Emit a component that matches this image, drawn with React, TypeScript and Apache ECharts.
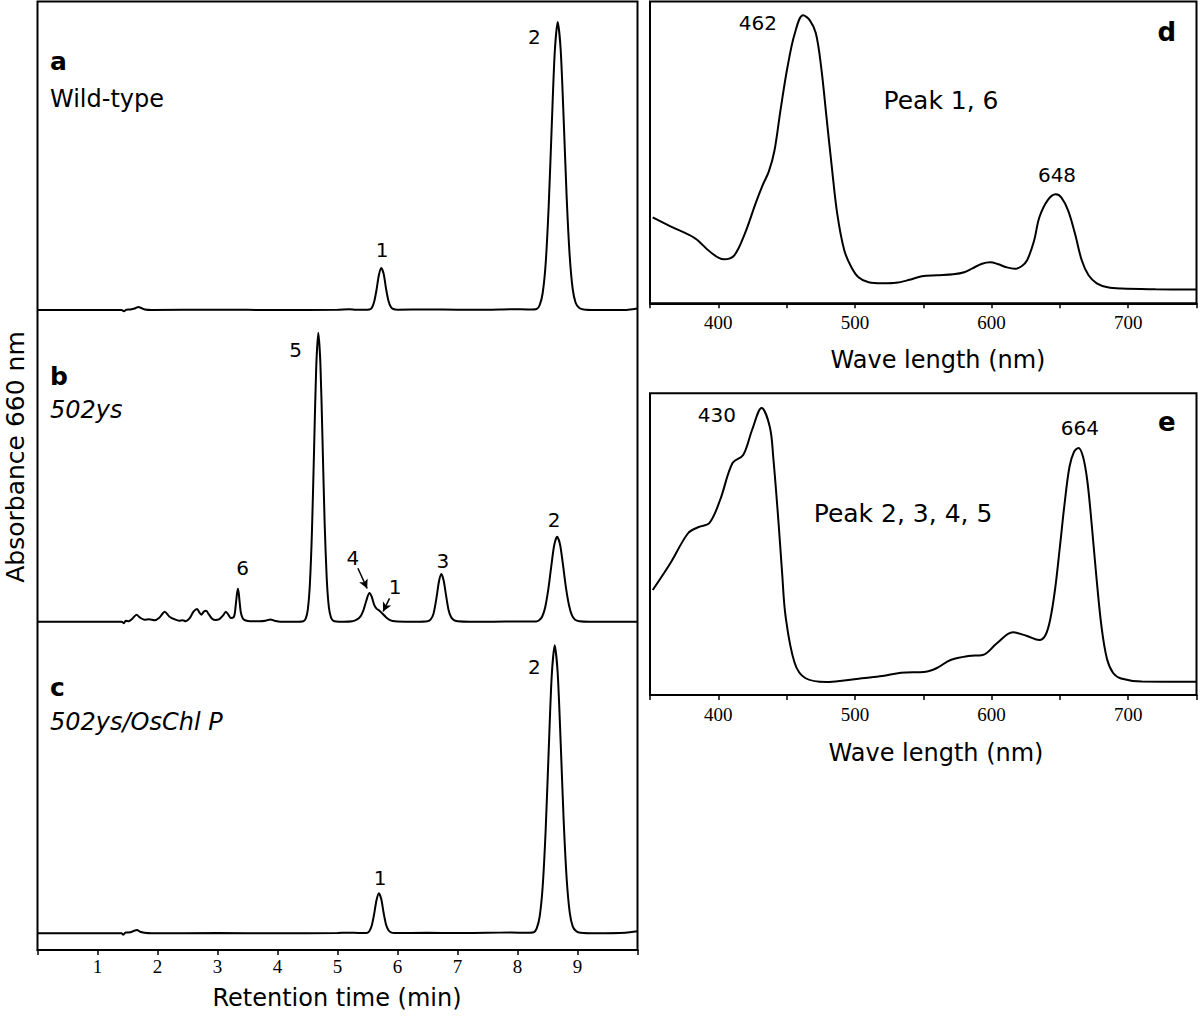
import React, { useEffect, useRef } from "react";
import * as echarts from "echarts";

// ---------- DATA ----------
// Chromatograms: [retention time (min), absorbance at 660 nm (a.u.)]
const timeTicks = [1, 2, 3, 4, 5, 6, 7, 8, 9];
const waveTicks = [400, 500, 600, 700];

const traceWildType: number[][] = [
  [0, 0], [1.4, 0], [1.44, -1.2], [1.48, 0.2], [1.55, 0.5], [1.62, 1.5], [1.68, 3], [1.73, 2], [1.79, 0.5], [1.9, 0],
  [3.0, 0.3], [4.0, 0], [5.0, 0.3], [5.2, 0.8], [5.3, 0.3], [5.45, 0.2],
  [5.53, 0.5], [5.57, 2], [5.61, 8], [5.65, 20], [5.69, 35], [5.73, 42], [5.77, 36], [5.81, 21], [5.85, 9], [5.89, 3], [5.93, 1], [6.0, 0.3],
  [6.5, 0.6], [7.0, 0.3], [7.5, 0.3], [7.9, 0.8], [8.2, 0.5],
  [8.32, 1], [8.37, 5], [8.42, 17], [8.47, 47], [8.52, 104], [8.57, 183], [8.62, 257], [8.67, 288], [8.72, 260], [8.77, 190],
  [8.82, 112], [8.87, 54], [8.92, 21], [8.97, 7], [9.03, 2], [9.1, 0.5], [9.3, 0], [9.8, 0], [9.95, 1], [10, 1.5],
];

const traceMutant: number[][] = [
  [0, 0], [1.4, 0], [1.44, -1.5], [1.47, 1], [1.52, 0.5], [1.58, 3], [1.65, 7], [1.71, 4], [1.78, 2], [1.86, 2.5], [1.95, 1.5],
  [2.03, 4], [2.12, 10], [2.2, 5], [2.3, 2], [2.36, 1], [2.42, 1.5], [2.47, 0.5], [2.53, 3], [2.6, 10], [2.66, 12.7], [2.7, 9],
  [2.73, 7], [2.77, 10], [2.81, 11], [2.86, 7], [2.91, 3], [2.97, 1.7], [3.03, 2.5], [3.09, 6], [3.14, 10], [3.18, 7], [3.22, 3.7],
  [3.27, 4.5], [3.29, 9], [3.31, 20], [3.325, 28], [3.34, 33], [3.355, 28], [3.37, 19], [3.39, 9], [3.42, 3.5], [3.46, 1.5],
  [3.55, 0.5], [3.7, 0.5], [3.8, 1], [3.88, 2.3], [3.95, 1], [4.05, 0], [4.3, 0],
  [4.43, 0.5], [4.47, 3], [4.505, 12], [4.54, 38], [4.575, 92], [4.61, 173], [4.645, 254], [4.68, 289], [4.715, 258], [4.75, 182],
  [4.785, 100], [4.82, 44], [4.855, 15], [4.89, 4.5], [4.93, 1], [4.98, 0.2], [5.1, 0],
  [5.25, 0.5], [5.32, 2], [5.38, 5], [5.43, 11], [5.48, 21], [5.53, 28.7], [5.57, 25], [5.61, 17], [5.65, 13], [5.7, 11], [5.75, 8],
  [5.8, 5], [5.86, 2], [5.92, 0.7], [6.0, 0.2], [6.3, 0],
  [6.5, 0.5], [6.55, 2], [6.6, 8], [6.65, 24], [6.69, 40], [6.73, 47.7], [6.77, 41], [6.81, 26], [6.85, 12], [6.89, 5], [6.94, 1.5],
  [7.0, 0.5], [7.2, 0], [7.6, 0], [8.0, 0.3],
  [8.31, 0.3], [8.36, 1.5], [8.41, 5], [8.46, 14], [8.51, 31], [8.56, 54], [8.61, 76], [8.66, 85], [8.71, 77], [8.76, 56], [8.81, 33],
  [8.86, 16], [8.91, 6], [8.96, 2], [9.03, 0.5], [9.2, 0], [10, 0],
];

const traceComplemented: number[][] = [
  [0, 0], [1.4, 0], [1.43, -1.5], [1.47, 0.8], [1.55, 1], [1.61, 2.5], [1.66, 3.3], [1.71, 1.5], [1.78, 0.5], [1.9, 0],
  [3.0, 0.2], [4.0, 0], [5.0, 0.3], [5.2, 0.6], [5.35, 0.3],
  [5.49, 0.4], [5.53, 2], [5.57, 7.5], [5.61, 19], [5.65, 33], [5.69, 40], [5.73, 34], [5.77, 20], [5.81, 8.5], [5.85, 3], [5.89, 1], [5.95, 0.3],
  [6.5, 0.5], [7.0, 0.2], [7.5, 0.5], [7.9, 0.8], [8.15, 0.5],
  [8.27, 1], [8.32, 5], [8.37, 17], [8.42, 47], [8.47, 104], [8.52, 183], [8.57, 257], [8.62, 288], [8.67, 260], [8.72, 190],
  [8.77, 112], [8.82, 54], [8.87, 21], [8.92, 7], [8.98, 2], [9.05, 0.5], [9.3, 0], [9.8, 0.5], [10, 2],
];

// Absorption spectra: [wavelength (nm), absorbance (a.u.)]
const spectrumPeak16: number[][] = [
  [352, 86], [365, 77], [383, 65], [393.5, 52], [404, 44], [411.7, 48], [419.5, 70], [427.3, 100], [432.4, 118], [437, 132],
  [441, 152], [445.5, 193], [450.6, 236], [456, 270], [462, 288], [467, 283], [471.4, 270], [475.3, 236], [479.2, 186],
  [483.1, 136], [487, 90], [492.2, 53], [497.4, 36], [502.6, 26], [510, 21], [520, 20], [530, 20.5], [540, 23.5], [549, 27],
  [560, 28], [572, 29], [580, 31], [586, 35], [593, 39.5], [599, 41], [605, 39], [611, 36], [617, 34.5], [622, 37], [626, 43],
  [631, 62], [635, 86], [641, 103], [647, 109], [651, 106], [656, 93], [661, 70], [666, 43], [671, 28], [677, 20], [685, 16],
  [695, 14.7], [720, 14], [750, 13.7],
];

const spectrumPeak2345: number[][] = [
  [352, 105], [365, 132], [378, 162], [385.7, 168], [393.5, 172], [401.3, 195], [410.4, 232], [418.2, 240], [424.7, 265],
  [431.7, 287], [437.7, 268], [440.2, 238], [444.1, 172], [446.7, 122], [449.3, 78], [455.9, 32], [463.6, 17], [479.2, 13],
  [492, 14.5], [505, 16.7], [520, 19], [533.7, 22.3], [551.9, 23.3], [560, 27], [570, 35], [583, 39], [593.5, 40], [603.9, 51.7],
  [615.6, 62.7], [626, 59], [635, 55], [639.5, 60], [643, 76], [646.5, 106], [650, 148], [653.5, 192], [657, 228], [660.3, 243],
  [663.6, 247], [667, 238], [670.1, 214], [673.2, 172], [676.6, 120], [680.5, 68], [684.5, 36], [689, 22], [694.8, 16.5], [710, 13.5], [750, 13.3],
];

// Peak annotations: [label, x, y] in data units
const labelsA: [string, number, number][] = [["1", 5.745, 60], ["2", 8.28, 273]];
const labelsB: [string, number, number][] = [
  ["5", 4.3, 271.7], ["6", 3.42, 53.4], ["4", 5.255, 64], ["1", 5.96, 35], ["3", 6.755, 60.7], ["2", 8.61, 101.7],
];
const labelsC: [string, number, number][] = [["2", 8.28, 266.6], ["1", 5.71, 55.3]];
const arrowsB: [number, number, number, number][] = [
  [5.34, 53.4, 5.494, 33.2],
  [5.867, 23.4, 5.761, 10.2],
];
const labelsD: [string, number, number][] = [["462", 429, 280], ["648", 647.9, 128]];
const labelsE: [string, number, number][] = [["430", 398.9, 280], ["664", 664.7, 266.7]];
const noteD: [string, number, number] = ["Peak 1, 6", 563, 203];
const noteE: [string, number, number] = ["Peak 2, 3, 4, 5", 535.2, 181.7];
const letterD: [string, number, number] = ["d", 728.3, 271];
const letterE: [string, number, number] = ["e", 728.3, 273.3];

// ---------- CHART ----------
const SANS = "DejaVu Sans";
const SERIF = "Liberation Serif";

const LX = 37.5;
const LW = 600;
const RX = 650;
const RW = 546.5;

function peakMarks(list: [string, number, number][], size = 20, bold = false) {
  return {
    symbol: "circle",
    symbolSize: 0,
    silent: true,
    label: {
      show: true,
      position: "inside",
      formatter: (p: any) => p.name,
      color: "#000",
      fontFamily: SANS,
      fontSize: size,
      fontWeight: bold ? "bold" : "normal",
    },
    data: list.map(([n, x, y]) => ({ name: n, coord: [x, y] })),
  };
}

function lineSeries(data: number[][], idx: number, extra: any = {}) {
  return {
    type: "line",
    xAxisIndex: idx,
    yAxisIndex: idx,
    data,
    showSymbol: false,
    smooth: 0.25,
    clip: false,
    silent: true,
    lineStyle: { color: "#000", width: 2 },
    ...extra,
  };
}

export default function App() {
  const ref = useRef<HTMLDivElement>(null);

  useEffect(() => {
    document.body.style.margin = "0";
    if (!ref.current) return;
    const chart = echarts.init(ref.current, undefined, { renderer: "svg" });

    const hiddenX = (min: number, max: number, interval: number) => ({
      type: "value",
      min,
      max,
      interval,
      show: false,
    });
    const timeX = {
      type: "value",
      min: 0,
      max: 10,
      interval: 1,
      axisLine: { show: true, onZero: false, lineStyle: { color: "#000", width: 2 } },
      axisTick: { show: true, inside: false, length: 5, lineStyle: { color: "#000", width: 1.5 } },
      axisLabel: {
        color: "#000",
        fontFamily: SERIF,
        fontSize: 19,
        margin: 7,
        formatter: (v: number) => (timeTicks.includes(v) ? String(v) : ""),
      },
      splitLine: { show: false },
    };
    const waveX = (gi: number) => ({
      type: "value",
      gridIndex: gi,
      min: 350,
      max: 750,
      interval: 50,
      axisLine: { show: true, onZero: false, lineStyle: { color: "#000", width: 2 } },
      axisTick: { show: true, inside: false, length: 5, lineStyle: { color: "#000", width: 1.5 } },
      axisLabel: {
        color: "#000",
        fontFamily: SERIF,
        fontSize: 19,
        margin: 10,
        formatter: (v: number) => (waveTicks.includes(v) ? String(v) : ""),
      },
      splitLine: { show: false },
    });
    const hiddenY = (gi: number, min: number, max: number) => ({
      type: "value",
      gridIndex: gi,
      min,
      max,
      show: false,
      splitLine: { show: false },
    });

    const textEl = (text: string, x: number, y: number, size: number, opts: any = {}) => ({
      type: "text",
      x,
      y,
      silent: true,
      rotation: opts.rotation || 0,
      style: {
        text,
        fill: "#000",
        font: `${opts.style || "normal"} ${opts.weight || "normal"} ${size}px "${SANS}"`,
        textAlign: opts.align || "left",
        textVerticalAlign: "middle",
      },
    });

    chart.setOption({
      animation: false,
      backgroundColor: "#fff",
      grid: [
        { left: LX, top: 1.5, width: LW, height: 308.5, show: false },
        { left: LX, top: 310, width: LW, height: 311.7, show: false },
        { left: LX, top: 621.7, width: LW, height: 328.3, show: false },
        { left: RX, top: 1.5, width: RW, height: 301.8, show: true, borderColor: "#000", borderWidth: 2 },
        { left: RX, top: 393.3, width: RW, height: 301.7, show: true, borderColor: "#000", borderWidth: 2 },
      ],
      xAxis: [
        { ...hiddenX(0, 10, 1), gridIndex: 0 },
        { ...hiddenX(0, 10, 1), gridIndex: 1 },
        { ...timeX, gridIndex: 2 },
        waveX(3),
        waveX(4),
      ],
      yAxis: [
        hiddenY(0, 0, 308.5),
        hiddenY(1, 0, 311.7),
        hiddenY(2, -16.7, 311.6),
        hiddenY(3, 0, 301.8),
        hiddenY(4, 0, 301.7),
      ],
      series: [
        lineSeries(traceWildType, 0, { markPoint: peakMarks(labelsA) }),
        lineSeries(traceMutant, 1, {
          markPoint: peakMarks(labelsB),
          markLine: {
            silent: true,
            symbol: ["none", "arrow"],
            symbolSize: [7, 9],
            label: { show: false },
            lineStyle: { color: "#000", width: 1.5, type: "solid" },
            data: arrowsB.map(([x1, y1, x2, y2]) => [{ coord: [x1, y1] }, { coord: [x2, y2] }]),
          },
        }),
        lineSeries(traceComplemented, 2, { markPoint: peakMarks(labelsC) }),
        lineSeries(spectrumPeak16, 3, {
          smooth: 0.35,
          markPoint: {
            ...peakMarks(labelsD),
            data: [
              ...labelsD.map(([n, x, y]) => ({ name: n, coord: [x, y] })),
              { name: noteD[0], coord: [noteD[1], noteD[2]], label: { fontSize: 25 } },
              { name: letterD[0], coord: [letterD[1], letterD[2]], label: { fontSize: 26, fontWeight: "bold" } },
            ],
          },
        }),
        lineSeries(spectrumPeak2345, 4, {
          smooth: 0.35,
          markPoint: {
            ...peakMarks(labelsE),
            data: [
              ...labelsE.map(([n, x, y]) => ({ name: n, coord: [x, y] })),
              { name: noteE[0], coord: [noteE[1], noteE[2]], label: { fontSize: 25 } },
              { name: letterE[0], coord: [letterE[1], letterE[2]], label: { fontSize: 26, fontWeight: "bold" } },
            ],
          },
        }),
      ],
      graphic: [
        {
          type: "rect",
          silent: true,
          shape: { x: LX, y: 1.5, width: LW, height: 948.5 },
          style: { fill: "none", stroke: "#000", lineWidth: 2 },
        },
        textEl("a", 50, 61, 25, { weight: "bold" }),
        textEl("Wild-type", 50, 99, 24),
        textEl("b", 50, 376, 25, { weight: "bold" }),
        textEl("502ys", 50, 410, 24, { style: "italic" }),
        textEl("c", 50, 687, 25, { weight: "bold" }),
        textEl("502ys/OsChl P", 50, 721.7, 24, { style: "italic" }),
        textEl("Retention time (min)", 337, 998, 24, { align: "center" }),
        textEl("Absorbance 660 nm", 15, 457, 25, { align: "center", rotation: Math.PI / 2 }),
        textEl("Wave length (nm)", 938, 360, 24, { align: "center" }),
        textEl("Wave length (nm)", 936, 753, 24, { align: "center" }),
      ],
    });

    return () => chart.dispose();
  }, []);

  return <div ref={ref} style={{ width: 1200, height: 1019 }} />;
}
